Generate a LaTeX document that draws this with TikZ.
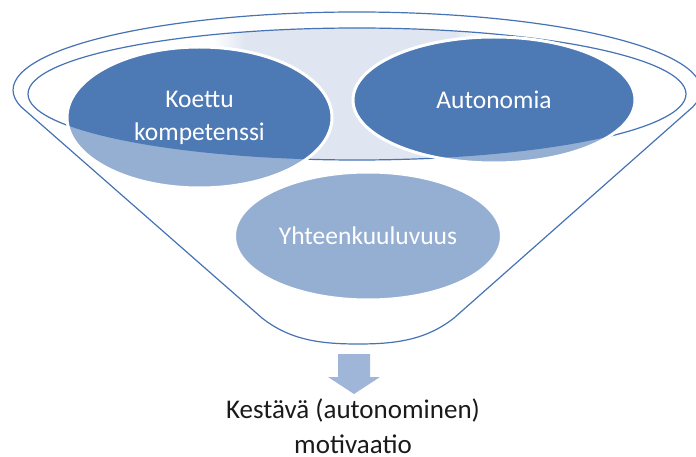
\documentclass[tikz,border=0pt]{standalone}
\usepackage{fontspec}
\setmainfont{Carlito}
\usetikzlibrary{shapes.geometric}

\definecolor{rim}{HTML}{4673B4}
\definecolor{rimfill}{HTML}{DFE6F1}
\definecolor{deep}{HTML}{4D79B4}
\definecolor{pale}{HTML}{95AFD3}
\definecolor{arrowfill}{HTML}{A0B6D8}
\definecolor{caption}{HTML}{1A1A1A}

% pale band across the middle of the funnel mouth
\pgfdeclarehorizontalshading{mouthfill}{100bp}{color(0bp)=(white); color(39bp)=(white);
  color(41.5bp)=(rimfill); color(57.4bp)=(rimfill); color(59.7bp)=(white); color(100bp)=(white)}

\tikzset{
  rimline/.style={draw=rim, line width=1.2pt},
  bubble/.style={ellipse, draw=white, line width=3pt, inner sep=0pt,
    text=white, align=center, font=\fontsize{25.5}{33}\selectfont},
  captiontext/.style={text=caption, align=center, inner sep=0pt,
    font=\fontsize{27}{35}\selectfont}
}

\begin{document}
\begin{tikzpicture}[x=1pt,y=-1pt]
\useasboundingbox (0,0) rectangle (696,457);

% funnel body: top rim arc, sloping sides, rounded spout
\draw[rimline, fill=white] (357,90) ++(-12.6:344pt and 78pt)
  arc[start angle=-12.6, end angle=192.6, x radius=344pt, y radius=78pt]
  -- (262,318) .. controls (290,340) and (320,344) .. (358,344)
  .. controls (396,344) and (426,340) .. (454,318) -- cycle;

% inner rim of the funnel mouth
\shade[shading=mouthfill] (357,94) ellipse[x radius=329pt, y radius=66pt];
\draw[rimline] (357,94) ellipse[x radius=329pt, y radius=66pt];

% pale parts of the three bubbles
\fill[pale] (199.5,117.5) ellipse[x radius=132.5pt, y radius=70.5pt];
\fill[pale] (494,100) ellipse[x radius=141pt, y radius=63pt];
\fill[pale] (368,236) ellipse[x radius=133.5pt, y radius=64pt];

% the parts lying inside the mouth are darker
\begin{scope}
  \clip (357,94) ellipse[x radius=329pt, y radius=66pt];
  \fill[deep] (199.5,117.5) ellipse[x radius=132.5pt, y radius=70.5pt];
  \fill[deep] (494,100) ellipse[x radius=141pt, y radius=63pt];
\end{scope}

% bubble outlines and labels
\node[bubble, minimum width=265pt, minimum height=141pt] (koettu) at (199.5,117.5)
  {\raisebox{-4pt}{\begin{tabular}{@{}c@{}}Koettu\\kompetenssi\end{tabular}}};
\node[bubble, minimum width=282pt, minimum height=126pt] (autonomia) at (494,100) {Autonomia};
\node[bubble, minimum width=267pt, minimum height=128pt] (yhteys) at (368,236) {Yhteenkuuluvuus};

% block arrow out of the spout
\fill[arrowfill] (338,354) -- (370,354) -- (370,377) -- (380,377) -- (354,394)
  -- (328,377) -- (338,377) -- cycle;

% result
\node[captiontext, anchor=base] (tulos) at (353,453) {Kestävä (autonominen)\\motivaatio};
\end{tikzpicture}
\end{document}
